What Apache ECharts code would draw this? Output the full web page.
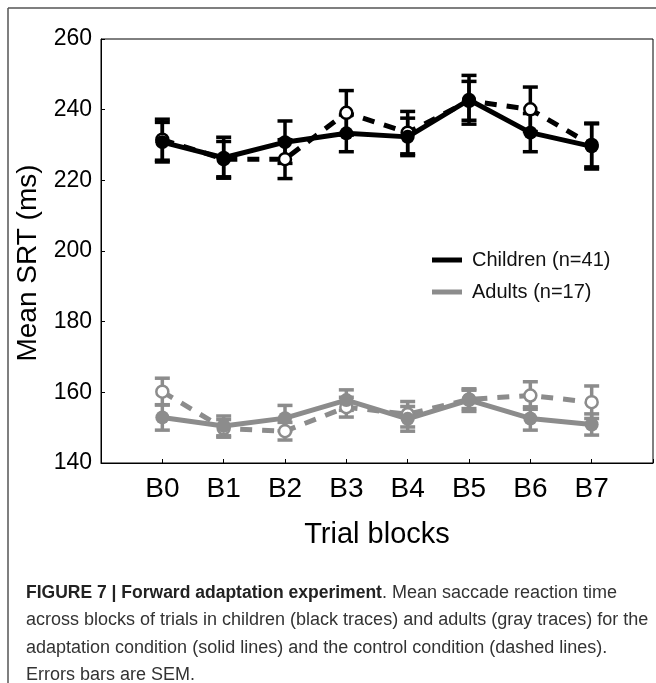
<!DOCTYPE html>
<html>
<head>
<meta charset="utf-8">
<script src="https://cdn.jsdelivr.net/npm/echarts@6/dist/echarts.min.js"></script>
<style>
  html, body { margin: 0; padding: 0; background: #fff; }
  #chart { width: 656px; height: 683px; }
</style>
</head>
<body>
<div id="chart"></div>
<script>
var blocks = ['B0', 'B1', 'B2', 'B3', 'B4', 'B5', 'B6', 'B7'];
var yTicks = [140, 160, 180, 200, 220, 240, 260];

// children, adaptation (solid) and control (dashed)
var childSolid = [230.8, 226.4, 230.8, 233.3, 232.3, 242.8, 233.5, 229.6];
var childSolidErr = [5.6, 5.8, 6.0, 5.2, 5.3, 6.9, 5.4, 6.4];
var childDashed = [231.5, 226.0, 226.0, 239.1, 233.5, 242.5, 240.1, 230.0];
var childDashedErr = [5.8, 5.0, 5.5, 6.3, 6.0, 5.5, 6.3, 6.2];

// adults
var adultSolid = [152.9, 150.5, 152.7, 157.8, 152.5, 157.8, 152.6, 150.9];
var adultSolidErr = [3.6, 2.8, 3.6, 2.9, 3.5, 3.2, 3.3, 3.0];
var adultDashed = [160.2, 149.8, 149.0, 155.8, 153.8, 158.0, 159.1, 157.2];
var adultDashedErr = [3.8, 2.5, 2.5, 2.8, 3.6, 2.6, 3.9, 4.6];

var captionLines = [
    '{b|FIGURE 7 | Forward adaptation experiment}{r|. Mean saccade reaction time}',
    '{r|across blocks of trials in children (black traces) and adults (gray traces) for the}',
    '{r|adaptation condition (solid lines) and the control condition (dashed lines).}',
    '{r|Errors bars are SEM.}'
];

var BLACK = '#000000';
var GRAY = '#8c8c8c';

function toPoints(vals) {
    return vals.map(function (v, i) { return [i, v]; });
}
function toErr(vals, errs) {
    return vals.map(function (v, i) { return [i, v - errs[i], v + errs[i]]; });
}

function errorBars(color) {
    return function (params, api) {
        var x = api.value(0);
        var top = api.coord([x, api.value(2)]);
        var bot = api.coord([x, api.value(1)]);
        var half = 7.5;
        var st = { stroke: color, lineWidth: 3.5 };
        return {
            type: 'group',
            children: [
                { type: 'line', shape: { x1: top[0], y1: top[1], x2: bot[0], y2: bot[1] }, style: st },
                { type: 'line', shape: { x1: top[0] - half, y1: top[1], x2: top[0] + half, y2: top[1] }, style: st },
                { type: 'line', shape: { x1: bot[0] - half, y1: bot[1], x2: bot[0] + half, y2: bot[1] }, style: st }
            ]
        };
    };
}

function errSeries(vals, errs, color) {
    return {
        type: 'custom',
        renderItem: errorBars(color),
        data: toErr(vals, errs),
        z: 1,
        silent: true,
        encode: { x: 0, y: [1, 2] }
    };
}

function solidSeries(name, vals, color) {
    return {
        name: name,
        type: 'line',
        data: toPoints(vals),
        z: 3,
        symbol: 'circle',
        symbolSize: 14,
        itemStyle: { color: color },
        lineStyle: { color: color, width: 5 },
        emphasis: { disabled: true }
    };
}

function dashedSeries(name, vals, color) {
    return {
        name: name,
        type: 'line',
        data: toPoints(vals),
        z: 2,
        symbol: 'circle',
        symbolSize: 12,
        itemStyle: { color: '#ffffff', borderColor: color, borderWidth: 2.5 },
        lineStyle: { color: color, width: 5, type: [12, 10] },
        emphasis: { disabled: true }
    };
}

var captionGraphics = captionLines.map(function (line, i) {
    return {
        type: 'text',
        left: 26,
        top: 584 + i * 27.5,
        style: {
            text: line,
            rich: {
                b: { fontFamily: 'Liberation Sans', fontSize: 17.5, fontWeight: 'bold', fill: '#222' },
                r: { fontFamily: 'Liberation Sans', fontSize: 18, fill: '#333' }
            }
        }
    };
});

var dom = document.getElementById('chart');
var myChart = echarts.init(dom);
var option = {
    animation: false,
    backgroundColor: '#ffffff',
    grid: {
        left: 101, right: 2, top: 39, bottom: 220,
        show: true, borderColor: '#000', borderWidth: 1
    },
    legend: {
        orient: 'vertical',
        left: 427,
        top: 245,
        itemWidth: 30,
        itemHeight: 5,
        itemGap: 12,
        icon: 'rect',
        data: ['Children (n=41)', 'Adults (n=17)'],
        textStyle: { fontFamily: 'Liberation Sans', fontSize: 20, color: '#111', padding: [0, 0, 0, 5] }
    },
    xAxis: {
        type: 'value',
        min: -1,
        max: 8,
        interval: 1,
        name: 'Trial blocks',
        nameLocation: 'middle',
        nameGap: 57,
        nameTextStyle: { fontFamily: 'Liberation Sans', fontSize: 29, color: '#000' },
        axisLine: { onZero: false, lineStyle: { color: '#000', width: 1 } },
        axisTick: { inside: true, length: 4, lineStyle: { color: '#000' } },
        splitLine: { show: false },
        axisLabel: {
            fontFamily: 'Liberation Sans', fontSize: 28, color: '#000', margin: 12,
            showMinLabel: true, showMaxLabel: true,
            formatter: function (v) { return blocks[v] || ''; }
        }
    },
    yAxis: {
        type: 'value',
        min: yTicks[0],
        max: yTicks[yTicks.length - 1],
        interval: yTicks[1] - yTicks[0],
        name: 'Mean SRT (ms)',
        nameLocation: 'middle',
        nameGap: 54,
        nameTextStyle: { fontFamily: 'Liberation Sans', fontSize: 28, color: '#000', padding: [0, 24, 0, 0] },
        axisLine: { show: true, onZero: false, lineStyle: { color: '#000', width: 1 } },
        axisTick: { show: true, inside: true, length: 4, lineStyle: { color: '#000' } },
        splitLine: { show: false },
        axisLabel: { fontFamily: 'Liberation Sans', fontSize: 23, color: '#000', margin: 9 }
    },
    graphic: [
        { type: 'line', shape: { x1: 8, y1: 8, x2: 656, y2: 8 }, style: { stroke: '#555', lineWidth: 1.5 } },
        { type: 'line', shape: { x1: 8, y1: 8, x2: 8, y2: 683 }, style: { stroke: '#555', lineWidth: 1.5 } }
    ].concat(captionGraphics),
    series: [
        errSeries(childDashed, childDashedErr, BLACK),
        errSeries(childSolid, childSolidErr, BLACK),
        errSeries(adultDashed, adultDashedErr, GRAY),
        errSeries(adultSolid, adultSolidErr, GRAY),
        dashedSeries('Children control', childDashed, BLACK),
        dashedSeries('Adults control', adultDashed, GRAY),
        solidSeries('Children (n=41)', childSolid, BLACK),
        solidSeries('Adults (n=17)', adultSolid, GRAY)
    ]
};
myChart.setOption(option);
</script>
</body>
</html>
